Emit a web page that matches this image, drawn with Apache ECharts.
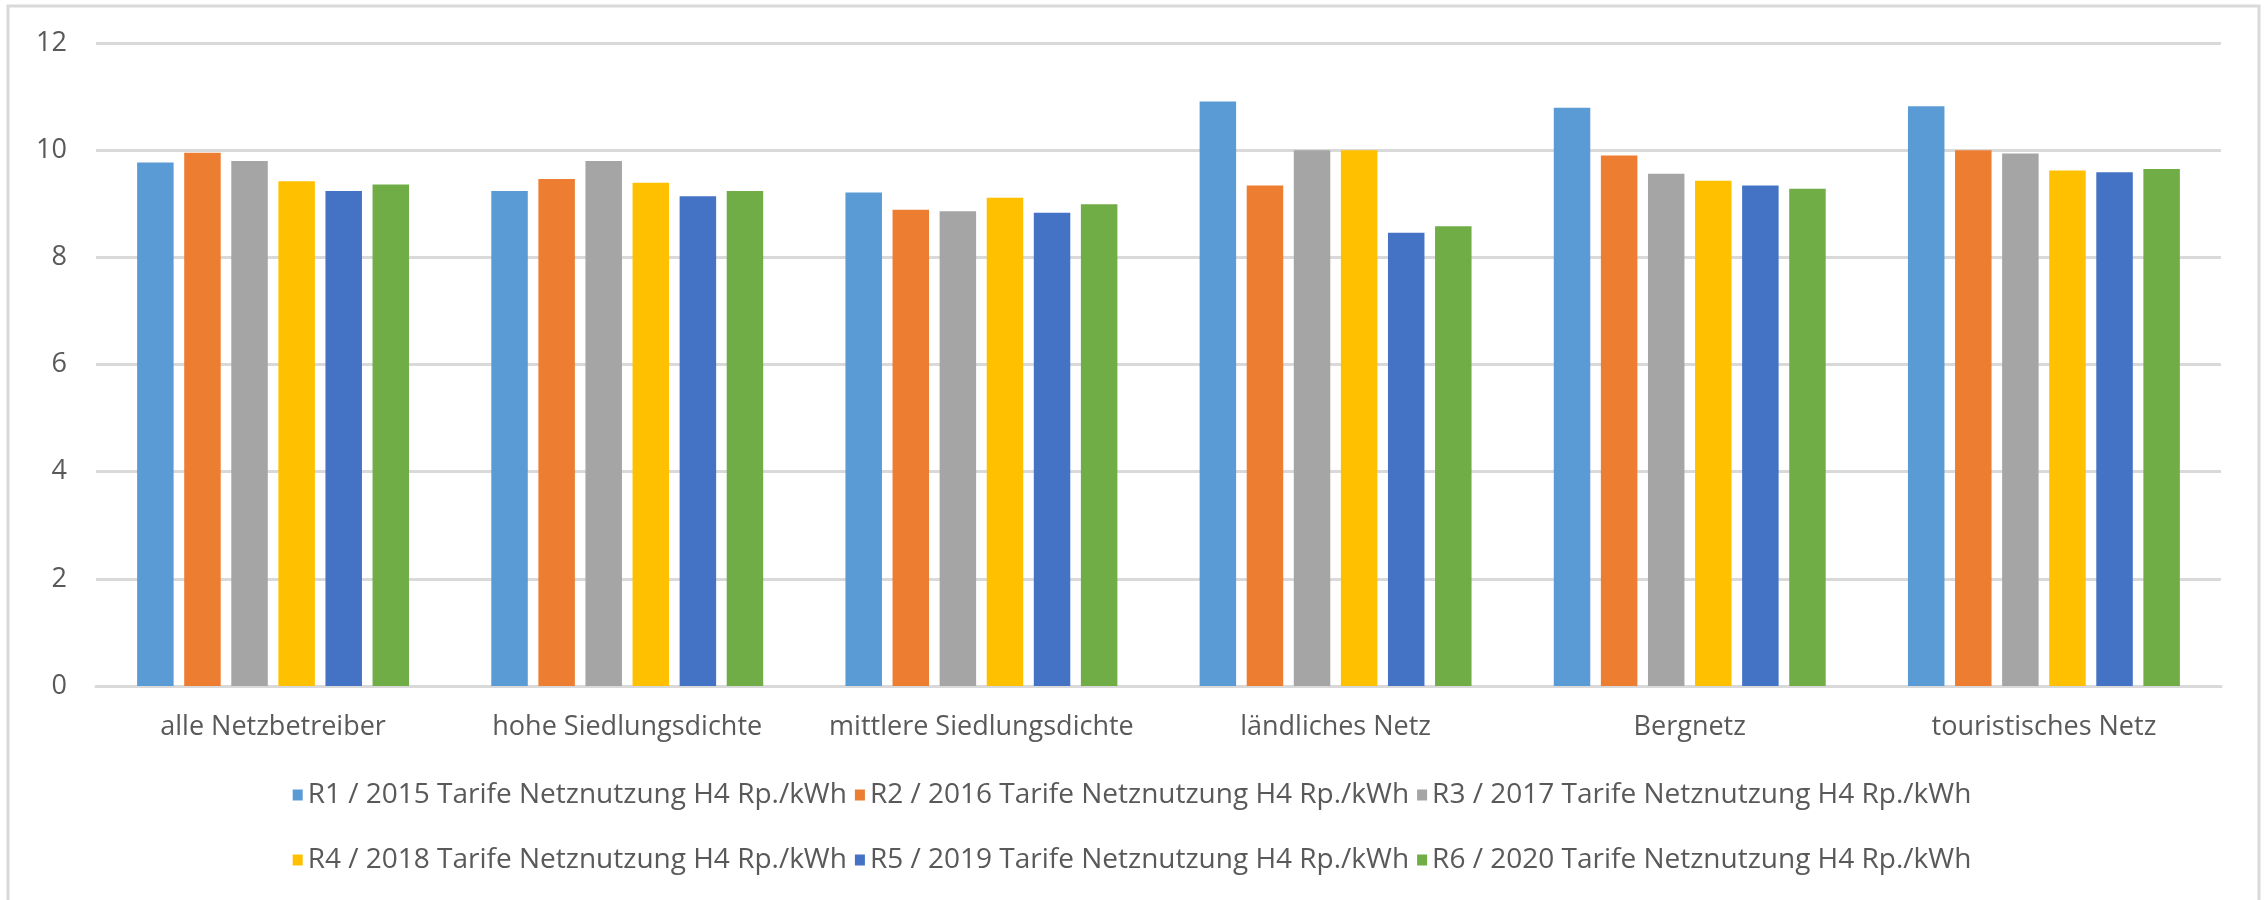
<!DOCTYPE html>
<html lang="de">
<head>
    <meta charset="utf-8">
    <title>Tarife Netznutzung H4</title>
    <script src="https://cdn.jsdelivr.net/npm/echarts@6/dist/echarts.min.js"></script>
    <style>
        html, body { margin: 0; padding: 0; background: #fff; }
        #container { width: 2264px; height: 900px; }
    </style>
</head>
<body>
<div id="container"></div>
<script>
    const categories = ["alle Netzbetreiber", "hohe Siedlungsdichte", "mittlere Siedlungsdichte",
        "ländliches Netz", "Bergnetz", "touristisches Netz"];
    const seriesNames = [
        "R1 / 2015 Tarife Netznutzung H4 Rp./kWh",
        "R2 / 2016 Tarife Netznutzung H4 Rp./kWh",
        "R3 / 2017 Tarife Netznutzung H4 Rp./kWh",
        "R4 / 2018 Tarife Netznutzung H4 Rp./kWh",
        "R5 / 2019 Tarife Netznutzung H4 Rp./kWh",
        "R6 / 2020 Tarife Netznutzung H4 Rp./kWh"
    ];
    const r1 = [9.77, 9.24, 9.21, 10.91, 10.79, 10.82];
    const r2 = [9.95, 9.46, 8.89, 9.34, 9.90, 10.00];
    const r3 = [9.80, 9.80, 8.86, 10.00, 9.56, 9.94];
    const r4 = [9.42, 9.39, 9.11, 10.00, 9.43, 9.62];
    const r5 = [9.24, 9.14, 8.83, 8.46, 9.34, 9.59];
    const r6 = [9.36, 9.24, 8.99, 8.58, 9.28, 9.65];
    const yTicks = [0, 2, 4, 6, 8, 10, 12];
    const colors = ["#5B9BD5", "#ED7D31", "#A5A5A5", "#FFC000", "#4472C4", "#70AD47"];

    const values = [r1, r2, r3, r4, r5, r6];
    const textColor = "#595959";
    const font = "'Open Sans', 'Liberation Sans', sans-serif";

    const legendBase = {
        left: "center",
        icon: "rect",
        itemWidth: 10,
        itemHeight: 11,
        itemGap: 8,
        textStyle: { color: textColor, fontSize: 28, fontFamily: font }
    };

    const option = {
        animation: false,
        color: colors,
        textStyle: { fontFamily: font },
        graphic: [{
            type: "rect",
            shape: { x: 8, y: 6, width: 2251, height: 1000 },
            style: { fill: "none", stroke: "#d9d9d9", lineWidth: 3 },
            silent: true
        }],
        legend: [
            Object.assign({ data: seriesNames.slice(0, 3), top: 776 }, legendBase),
            Object.assign({ data: seriesNames.slice(3), top: 841 }, legendBase)
        ],
        grid: { left: 96, right: 43, top: 43, bottom: 214, containLabel: false },
        xAxis: {
            type: "category",
            data: categories,
            axisLine: { lineStyle: { color: "#d9d9d9", width: 3 } },
            axisTick: { show: false },
            axisLabel: { color: textColor, fontSize: 27, margin: 28, interval: 0, fontFamily: font }
        },
        yAxis: {
            type: "value",
            min: yTicks[0],
            max: yTicks[yTicks.length - 1],
            interval: 2,
            axisLine: { show: false },
            axisTick: { show: false },
            axisLabel: { color: textColor, fontSize: 27, margin: 29, fontFamily: font },
            splitLine: { lineStyle: { color: "#d9d9d9", width: 3 } }
        },
        series: values.map((data, i) => ({
            name: seriesNames[i],
            type: "bar",
            data: data,
            barWidth: 36.5,
            barGap: "29%"
        }))
    };

    const chart = echarts.init(document.getElementById("container"));
    chart.setOption(option);
</script>
</body>
</html>
